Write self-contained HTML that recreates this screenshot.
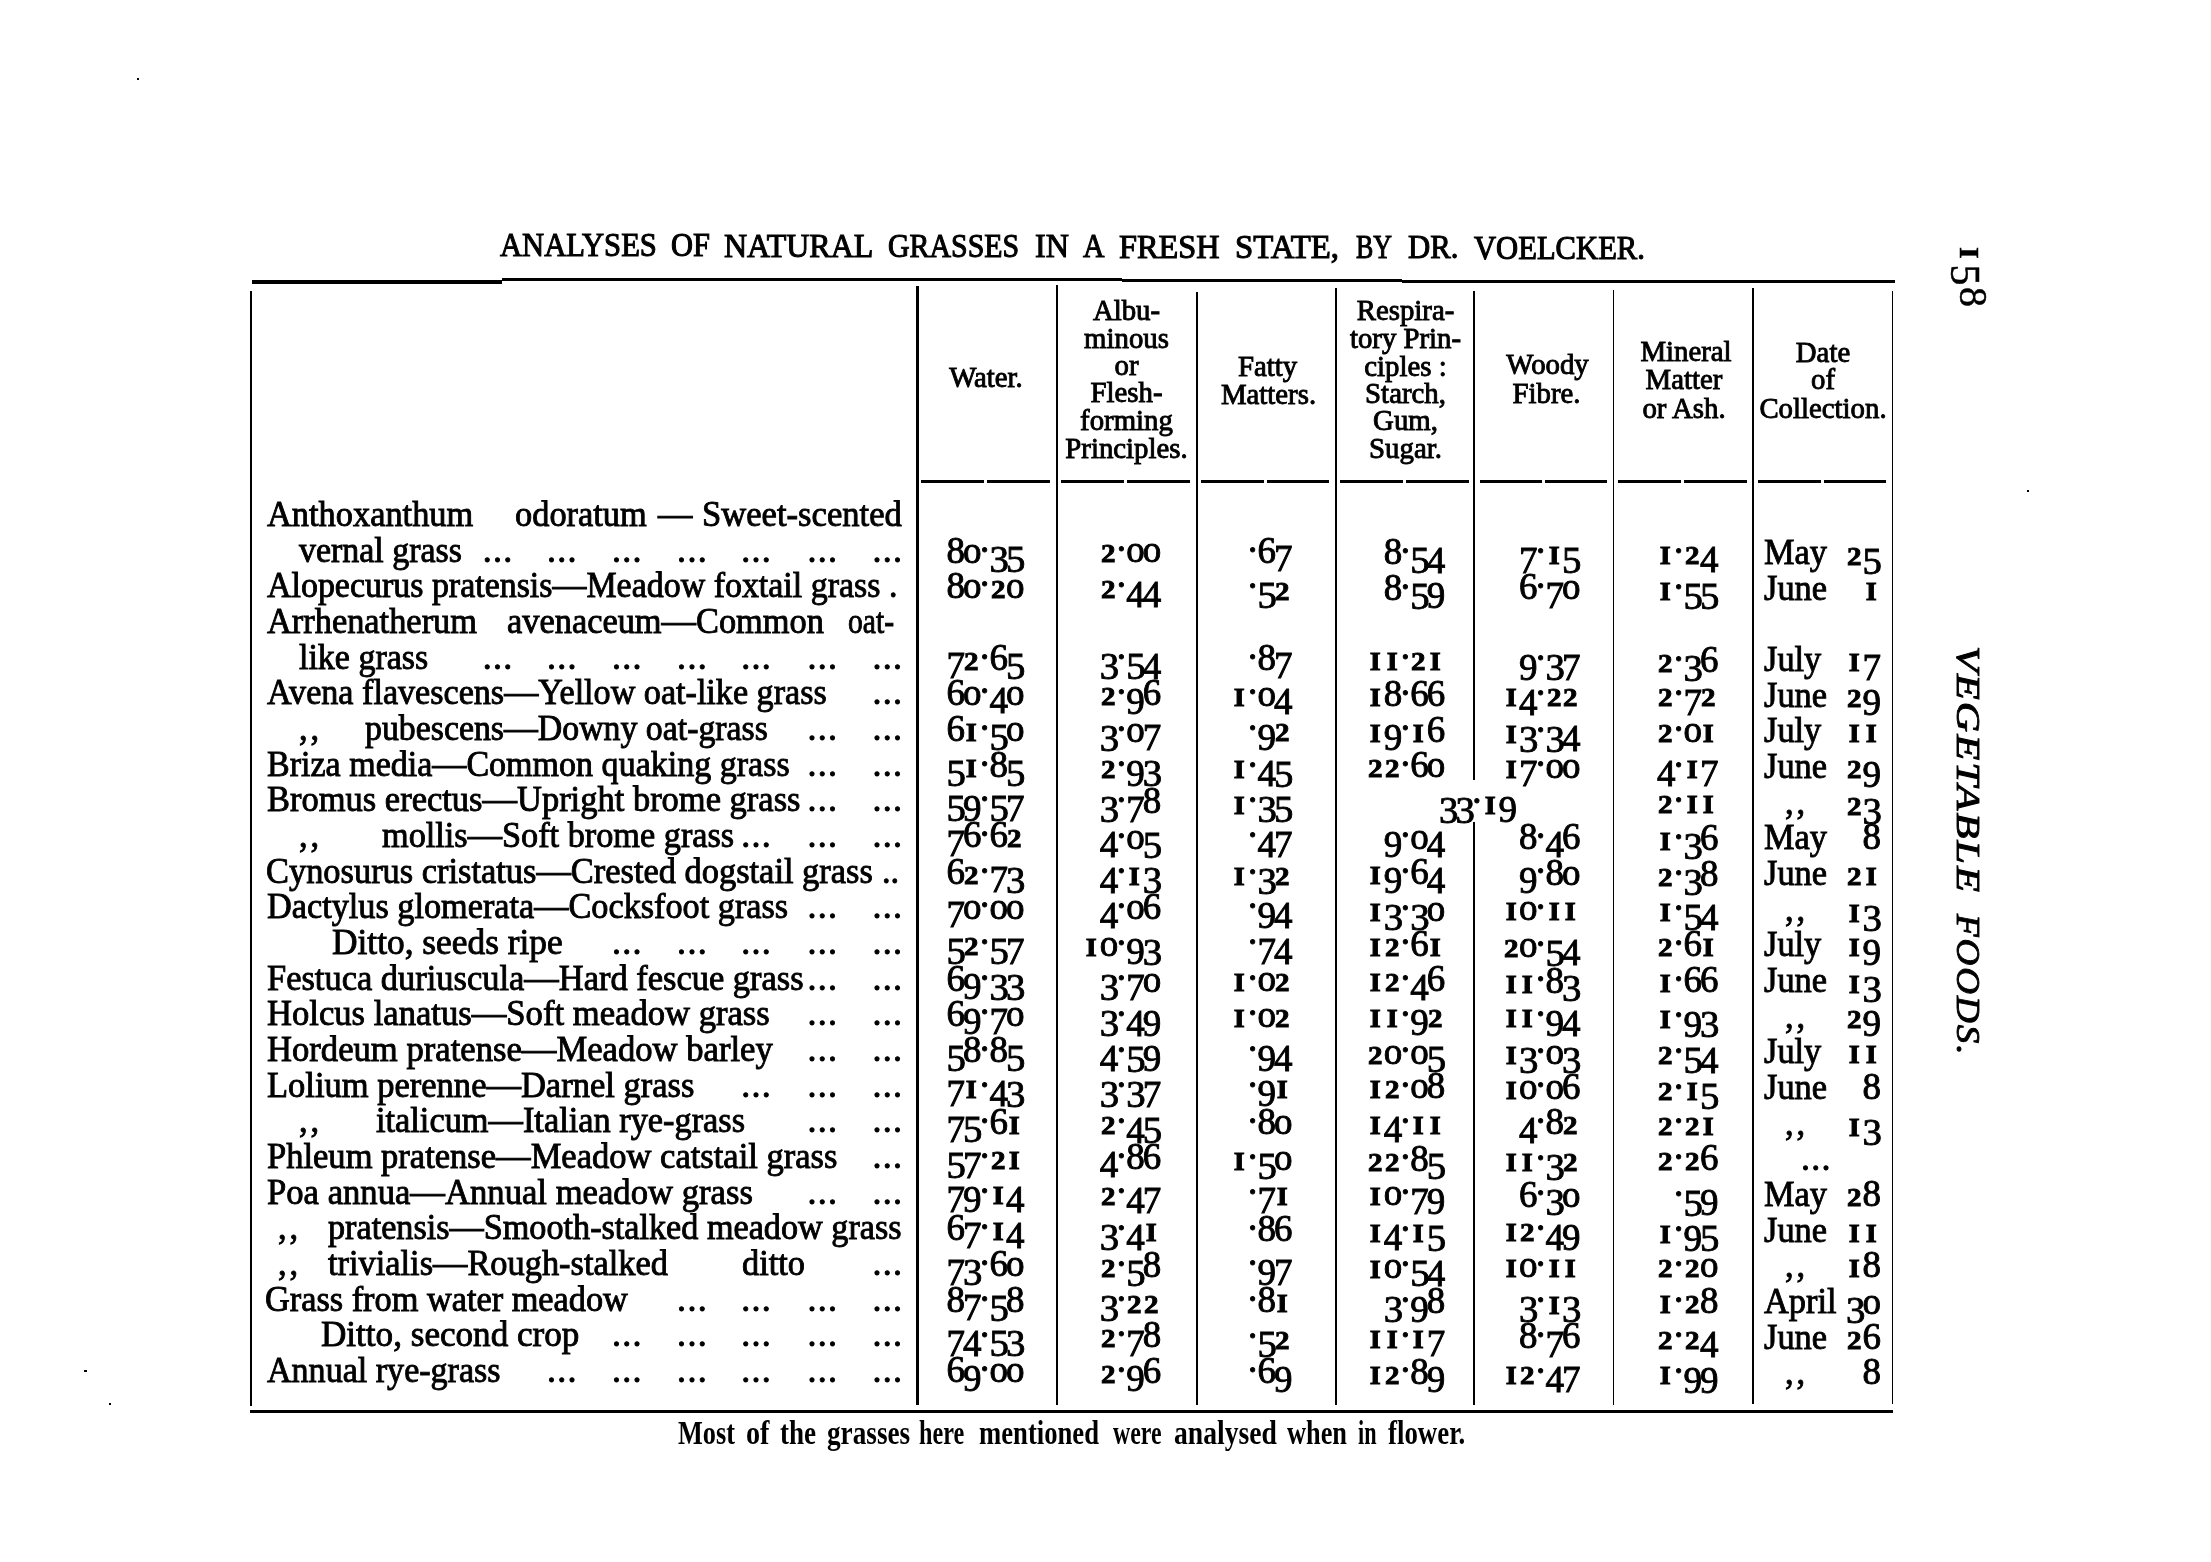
<!DOCTYPE html><html><head><meta charset="utf-8"><style>
*{margin:0;padding:0;box-sizing:border-box}
html,body{width:2211px;height:1562px;background:#fff;overflow:hidden}
body{filter:grayscale(1)}
body{position:relative;font-family:"Liberation Serif",serif;color:#000;font-size:36.0px;-webkit-text-stroke:0.9px #000}
.t{position:absolute;white-space:pre;line-height:1;transform-origin:0 0}
.r{position:absolute;background:#000}
.dm{letter-spacing:3px}
.ld{letter-spacing:1.3px}
.ti{letter-spacing:0;-webkit-text-stroke:1.1px #000}
.ft{font-weight:bold;-webkit-text-stroke:0}
.h{font-size:28.8px}
.d{display:inline-block;width:0.446em;text-align:center;font-style:normal}
.d1{font-size:0.68em;font-weight:bold;width:0.656em;transform:scaleX(1.12)}
.d2{font-size:0.7em;font-weight:bold;width:0.637em;transform:scaleX(1.12)}
.dn{position:relative;top:0.23em}
.d35{font-size:1.05em;width:0.425em;top:0.225em}
.p{display:inline-block;width:0.27em;text-align:center;font-style:normal;position:relative;top:-0.30em}
.rot .d{width:22px}
.rot .d1,.rot .d2{width:22px}
.rot .d35{width:22px}
.rot{position:absolute;font-size:40px;-webkit-text-stroke:0.5px #000;line-height:1;transform-origin:0 0;transform:rotate(90deg);white-space:pre}
.rot2{position:absolute;font-size:33.5px;font-style:italic;line-height:1;transform-origin:0 0;transform:rotate(90deg) scaleX(1.2);white-space:pre}
</style></head><body>
<div class="r" style="left:137.0px;top:78.0px;width:2.0px;height:2.0px;"></div>
<div class="r" style="left:2027.0px;top:490.0px;width:2.2px;height:2.2px;"></div>
<div class="r" style="left:84.0px;top:1370.0px;width:3.0px;height:1.5px;"></div>
<div class="r" style="left:109.0px;top:1403.0px;width:1.5px;height:1.5px;"></div>
<div class="r" style="left:252.0px;top:280.3px;width:250.0px;height:3.3px;"></div>
<div class="r" style="left:502.0px;top:278.1px;width:620.0px;height:2.9px;"></div>
<div class="r" style="left:1122.0px;top:279.2px;width:280.0px;height:2.9px;"></div>
<div class="r" style="left:1402.0px;top:280.4px;width:493.0px;height:2.9px;"></div>
<div class="r" style="left:250.0px;top:1409.5px;width:1643.0px;height:3.0px;"></div>
<div class="r" style="left:250.0px;top:291.0px;width:2.2px;height:1115.0px;"></div>
<div class="r" style="left:916.0px;top:286.0px;width:3.0px;height:1119.0px;"></div>
<div class="r" style="left:1055.5px;top:285.0px;width:2.0px;height:1120.0px;"></div>
<div class="r" style="left:1195.5px;top:292.0px;width:2.2px;height:1113.0px;"></div>
<div class="r" style="left:1335.3px;top:288.0px;width:2.0px;height:1117.0px;"></div>
<div class="r" style="left:1473.2px;top:291.0px;width:2.0px;height:489.0px;"></div>
<div class="r" style="left:1473.2px;top:822.0px;width:2.0px;height:583.0px;"></div>
<div class="r" style="left:1612.8px;top:290.0px;width:1.6px;height:1115.0px;"></div>
<div class="r" style="left:1752.0px;top:288.0px;width:2.0px;height:1116.0px;"></div>
<div class="r" style="left:1891.8px;top:291.0px;width:1.6px;height:1113.0px;"></div>
<div class="r" style="left:921.0px;top:480.3px;width:63.0px;height:3.0px;"></div>
<div class="r" style="left:987.0px;top:480.3px;width:63.0px;height:3.0px;"></div>
<div class="r" style="left:1061.0px;top:480.3px;width:63.0px;height:3.0px;"></div>
<div class="r" style="left:1127.0px;top:480.3px;width:63.0px;height:3.0px;"></div>
<div class="r" style="left:1201.0px;top:480.3px;width:62.5px;height:3.0px;"></div>
<div class="r" style="left:1266.5px;top:480.3px;width:62.5px;height:3.0px;"></div>
<div class="r" style="left:1340.0px;top:480.3px;width:63.0px;height:3.0px;"></div>
<div class="r" style="left:1406.0px;top:480.3px;width:63.0px;height:3.0px;"></div>
<div class="r" style="left:1480.0px;top:480.3px;width:62.0px;height:3.0px;"></div>
<div class="r" style="left:1545.0px;top:480.3px;width:62.0px;height:3.0px;"></div>
<div class="r" style="left:1618.0px;top:480.3px;width:63.0px;height:3.0px;"></div>
<div class="r" style="left:1684.0px;top:480.3px;width:63.0px;height:3.0px;"></div>
<div class="r" style="left:1758.0px;top:480.3px;width:62.5px;height:3.0px;"></div>
<div class="r" style="left:1823.5px;top:480.3px;width:62.5px;height:3.0px;"></div>
<div class="t ti" style="left:499.50px;top:227.94px;font-size:34.00px;transform:scaleX(0.9008);">ANALYSES</div>
<div class="t ti" style="left:670.90px;top:228.26px;font-size:34.00px;transform:scaleX(0.8949);">OF</div>
<div class="t ti" style="left:724.20px;top:228.56px;font-size:34.00px;transform:scaleX(0.9409);">NATURAL</div>
<div class="t ti" style="left:888.30px;top:228.99px;font-size:34.00px;transform:scaleX(0.8782);">GRASSES</div>
<div class="t ti" style="left:1035.30px;top:229.27px;font-size:34.00px;transform:scaleX(0.9445);">IN</div>
<div class="t ti" style="left:1082.70px;top:229.38px;font-size:34.00px;transform:scaleX(0.8753);">A</div>
<div class="t ti" style="left:1119.00px;top:229.60px;font-size:34.00px;transform:scaleX(0.9506);">FRESH</div>
<div class="t ti" style="left:1235.40px;top:229.93px;font-size:34.00px;transform:scaleX(0.9649);">STATE,</div>
<div class="t ti" style="left:1356.00px;top:230.17px;font-size:34.00px;transform:scaleX(0.7622);">BY</div>
<div class="t ti" style="left:1407.60px;top:230.33px;font-size:34.00px;transform:scaleX(0.9043);">DR.</div>
<div class="t ti" style="left:1473.60px;top:230.68px;font-size:34.00px;transform:scaleX(0.9003);">VOELCKER.</div>
<div class="t h" style="left:986.00px;top:363.38px;font-size:28.80px;transform:translateX(-50%) scaleX(1.0000);transform-origin:0 0;">Water.</div>
<div class="t h" style="left:1126.50px;top:295.58px;font-size:28.80px;transform:translateX(-50%) scaleX(1.0000);transform-origin:0 0;">Albu-</div>
<div class="t h" style="left:1126.50px;top:324.08px;font-size:28.80px;transform:translateX(-50%) scaleX(1.0000);transform-origin:0 0;">minous</div>
<div class="t h" style="left:1126.50px;top:350.68px;font-size:28.80px;transform:translateX(-50%) scaleX(1.0000);transform-origin:0 0;">or</div>
<div class="t h" style="left:1126.50px;top:377.88px;font-size:28.80px;transform:translateX(-50%) scaleX(1.0000);transform-origin:0 0;">Flesh-</div>
<div class="t h" style="left:1126.50px;top:405.88px;font-size:28.80px;transform:translateX(-50%) scaleX(1.0000);transform-origin:0 0;">forming</div>
<div class="t h" style="left:1126.50px;top:433.58px;font-size:28.80px;transform:translateX(-50%) scaleX(1.0000);transform-origin:0 0;">Principles.</div>
<div class="t h" style="left:1267.50px;top:351.98px;font-size:28.80px;transform:translateX(-50%) scaleX(1.0000);transform-origin:0 0;">Fatty</div>
<div class="t h" style="left:1268.50px;top:379.88px;font-size:28.80px;transform:translateX(-50%) scaleX(1.0000);transform-origin:0 0;">Matters.</div>
<div class="t h" style="left:1405.50px;top:296.28px;font-size:28.80px;transform:translateX(-50%) scaleX(1.0000);transform-origin:0 0;">Respira-</div>
<div class="t h" style="left:1405.50px;top:324.08px;font-size:28.80px;transform:translateX(-50%) scaleX(1.0000);transform-origin:0 0;">tory Prin-</div>
<div class="t h" style="left:1405.50px;top:351.88px;font-size:28.80px;transform:translateX(-50%) scaleX(1.0000);transform-origin:0 0;">ciples :</div>
<div class="t h" style="left:1405.50px;top:378.58px;font-size:28.80px;transform:translateX(-50%) scaleX(1.0000);transform-origin:0 0;">Starch,</div>
<div class="t h" style="left:1405.50px;top:406.38px;font-size:28.80px;transform:translateX(-50%) scaleX(1.0000);transform-origin:0 0;">Gum,</div>
<div class="t h" style="left:1405.50px;top:434.28px;font-size:28.80px;transform:translateX(-50%) scaleX(1.0000);transform-origin:0 0;">Sugar.</div>
<div class="t h" style="left:1547.50px;top:349.98px;font-size:28.80px;transform:translateX(-50%) scaleX(1.0000);transform-origin:0 0;">Woody</div>
<div class="t h" style="left:1546.50px;top:379.48px;font-size:28.80px;transform:translateX(-50%) scaleX(1.0000);transform-origin:0 0;">Fibre.</div>
<div class="t h" style="left:1686.00px;top:336.68px;font-size:28.80px;transform:translateX(-50%) scaleX(1.0000);transform-origin:0 0;">Mineral</div>
<div class="t h" style="left:1684.00px;top:364.68px;font-size:28.80px;transform:translateX(-50%) scaleX(1.0000);transform-origin:0 0;">Matter</div>
<div class="t h" style="left:1684.00px;top:393.68px;font-size:28.80px;transform:translateX(-50%) scaleX(1.0000);transform-origin:0 0;">or Ash.</div>
<div class="t h" style="left:1823.00px;top:337.68px;font-size:28.80px;transform:translateX(-50%) scaleX(1.0000);transform-origin:0 0;">Date</div>
<div class="t h" style="left:1823.00px;top:365.18px;font-size:28.80px;transform:translateX(-50%) scaleX(1.0000);transform-origin:0 0;">of</div>
<div class="t h" style="left:1823.00px;top:393.68px;font-size:28.80px;transform:translateX(-50%) scaleX(1.0000);transform-origin:0 0;">Collection.</div>
<div class="t b" style="left:266.90px;top:496.05px;transform:scaleX(0.9550);">Anthoxanthum</div>
<div class="t b" style="left:514.50px;top:496.05px;transform:scaleX(0.9550);">odoratum</div>
<div class="t b" style="left:657.50px;top:496.05px;transform:scaleX(0.9550);">—</div>
<div class="t b" style="left:702.10px;top:496.05px;transform:scaleX(0.9614);">Sweet-scented</div>
<div class="t b" style="left:299.20px;top:531.72px;transform:scaleX(0.9425);">vernal grass</div>
<div class="t ld" style="left:482.70px;top:531.72px;">...</div>
<div class="t ld" style="left:546.90px;top:531.72px;">...</div>
<div class="t ld" style="left:612.00px;top:531.72px;">...</div>
<div class="t ld" style="left:677.10px;top:531.72px;">...</div>
<div class="t ld" style="left:741.20px;top:531.72px;">...</div>
<div class="t ld" style="left:807.40px;top:531.72px;">...</div>
<div class="t ld" style="left:872.50px;top:531.72px;">...</div>
<div class="t b" style="left:267.00px;top:567.39px;transform:scaleX(0.9425);">Alopecurus pratensis—Meadow foxtail grass .</div>
<div class="t b" style="left:267.00px;top:603.06px;transform:scaleX(0.9550);">Arrhenatherum</div>
<div class="t b" style="left:506.80px;top:603.06px;transform:scaleX(0.9550);">avenaceum—Common</div>
<div class="t b" style="left:848.20px;top:603.06px;transform:scaleX(0.8237);">oat-</div>
<div class="t b" style="left:299.20px;top:638.73px;transform:scaleX(0.9433);">like grass</div>
<div class="t ld" style="left:482.70px;top:638.73px;">...</div>
<div class="t ld" style="left:546.90px;top:638.73px;">...</div>
<div class="t ld" style="left:612.00px;top:638.73px;">...</div>
<div class="t ld" style="left:677.10px;top:638.73px;">...</div>
<div class="t ld" style="left:741.20px;top:638.73px;">...</div>
<div class="t ld" style="left:807.40px;top:638.73px;">...</div>
<div class="t ld" style="left:872.50px;top:638.73px;">...</div>
<div class="t b" style="left:267.00px;top:674.40px;transform:scaleX(0.9478);">Avena flavescens—Yellow oat-like grass</div>
<div class="t ld" style="left:872.50px;top:674.40px;">...</div>
<div class="t b dm" style="left:299.20px;top:710.07px;transform:scaleX(0.9550);">,,</div>
<div class="t b" style="left:365.30px;top:710.07px;transform:scaleX(0.9394);">pubescens—Downy oat-grass</div>
<div class="t ld" style="left:807.40px;top:710.07px;">...</div>
<div class="t ld" style="left:872.50px;top:710.07px;">...</div>
<div class="t b" style="left:267.00px;top:745.74px;transform:scaleX(0.9454);">Briza media—Common quaking grass</div>
<div class="t ld" style="left:807.40px;top:745.74px;">...</div>
<div class="t ld" style="left:872.50px;top:745.74px;">...</div>
<div class="t b" style="left:267.00px;top:781.41px;transform:scaleX(0.9580);">Bromus erectus—Upright brome grass</div>
<div class="t ld" style="left:807.40px;top:781.41px;">...</div>
<div class="t ld" style="left:872.50px;top:781.41px;">...</div>
<div class="t b dm" style="left:299.20px;top:817.08px;transform:scaleX(0.9550);">,,</div>
<div class="t b" style="left:382.20px;top:817.08px;transform:scaleX(0.9519);">mollis—Soft brome grass</div>
<div class="t ld" style="left:741.20px;top:817.08px;">...</div>
<div class="t ld" style="left:807.40px;top:817.08px;">...</div>
<div class="t ld" style="left:872.50px;top:817.08px;">...</div>
<div class="t b" style="left:266.00px;top:852.75px;transform:scaleX(0.9557);">Cynosurus cristatus—Crested dogstail grass</div>
<div class="t b" style="left:882.10px;top:852.75px;transform:scaleX(0.9550);">..</div>
<div class="t b" style="left:267.00px;top:888.42px;transform:scaleX(0.9513);">Dactylus glomerata—Cocksfoot grass</div>
<div class="t ld" style="left:807.40px;top:888.42px;">...</div>
<div class="t ld" style="left:872.50px;top:888.42px;">...</div>
<div class="t b" style="left:331.50px;top:924.09px;transform:scaleX(0.9819);">Ditto, seeds ripe</div>
<div class="t ld" style="left:612.00px;top:924.09px;">...</div>
<div class="t ld" style="left:677.10px;top:924.09px;">...</div>
<div class="t ld" style="left:741.20px;top:924.09px;">...</div>
<div class="t ld" style="left:807.40px;top:924.09px;">...</div>
<div class="t ld" style="left:872.50px;top:924.09px;">...</div>
<div class="t b" style="left:267.00px;top:959.76px;transform:scaleX(0.9568);">Festuca duriuscula—Hard fescue grass</div>
<div class="t ld" style="left:807.40px;top:959.76px;">...</div>
<div class="t ld" style="left:872.50px;top:959.76px;">...</div>
<div class="t b" style="left:267.00px;top:995.43px;transform:scaleX(0.9615);">Holcus lanatus—Soft meadow grass</div>
<div class="t ld" style="left:807.40px;top:995.43px;">...</div>
<div class="t ld" style="left:872.50px;top:995.43px;">...</div>
<div class="t b" style="left:267.00px;top:1031.10px;transform:scaleX(0.9619);">Hordeum pratense—Meadow barley</div>
<div class="t ld" style="left:807.40px;top:1031.10px;">...</div>
<div class="t ld" style="left:872.50px;top:1031.10px;">...</div>
<div class="t b" style="left:267.00px;top:1066.77px;transform:scaleX(0.9586);">Lolium perenne—Darnel grass</div>
<div class="t ld" style="left:741.20px;top:1066.77px;">...</div>
<div class="t ld" style="left:807.40px;top:1066.77px;">...</div>
<div class="t ld" style="left:872.50px;top:1066.77px;">...</div>
<div class="t b dm" style="left:299.20px;top:1102.44px;transform:scaleX(0.9550);">,,</div>
<div class="t b" style="left:376.10px;top:1102.44px;transform:scaleX(0.9541);">italicum—Italian rye-grass</div>
<div class="t ld" style="left:807.40px;top:1102.44px;">...</div>
<div class="t ld" style="left:872.50px;top:1102.44px;">...</div>
<div class="t b" style="left:267.00px;top:1138.11px;transform:scaleX(0.9589);">Phleum pratense—Meadow catstail grass</div>
<div class="t ld" style="left:872.50px;top:1138.11px;">...</div>
<div class="t b" style="left:267.00px;top:1173.78px;transform:scaleX(0.9624);">Poa annua—Annual meadow grass</div>
<div class="t ld" style="left:807.40px;top:1173.78px;">...</div>
<div class="t ld" style="left:872.50px;top:1173.78px;">...</div>
<div class="t b dm" style="left:278.20px;top:1209.45px;transform:scaleX(0.9550);">,,</div>
<div class="t b" style="left:328.40px;top:1209.45px;transform:scaleX(0.9498);">pratensis—Smooth-stalked meadow grass</div>
<div class="t b dm" style="left:278.20px;top:1245.12px;transform:scaleX(0.9550);">,,</div>
<div class="t b" style="left:328.40px;top:1245.12px;transform:scaleX(0.9549);">trivialis—Rough-stalked</div>
<div class="t b" style="left:742.00px;top:1245.12px;transform:scaleX(0.9543);">ditto</div>
<div class="t ld" style="left:872.50px;top:1245.12px;">...</div>
<div class="t b" style="left:265.40px;top:1280.79px;transform:scaleX(0.9528);">Grass from water meadow</div>
<div class="t ld" style="left:677.10px;top:1280.79px;">...</div>
<div class="t ld" style="left:741.20px;top:1280.79px;">...</div>
<div class="t ld" style="left:807.40px;top:1280.79px;">...</div>
<div class="t ld" style="left:872.50px;top:1280.79px;">...</div>
<div class="t b" style="left:320.70px;top:1316.46px;transform:scaleX(0.9753);">Ditto, second crop</div>
<div class="t ld" style="left:612.00px;top:1316.46px;">...</div>
<div class="t ld" style="left:677.10px;top:1316.46px;">...</div>
<div class="t ld" style="left:741.20px;top:1316.46px;">...</div>
<div class="t ld" style="left:807.40px;top:1316.46px;">...</div>
<div class="t ld" style="left:872.50px;top:1316.46px;">...</div>
<div class="t b" style="left:267.00px;top:1352.13px;transform:scaleX(0.9460);">Annual rye-grass</div>
<div class="t ld" style="left:546.90px;top:1352.13px;">...</div>
<div class="t ld" style="left:612.00px;top:1352.13px;">...</div>
<div class="t ld" style="left:677.10px;top:1352.13px;">...</div>
<div class="t ld" style="left:741.20px;top:1352.13px;">...</div>
<div class="t ld" style="left:807.40px;top:1352.13px;">...</div>
<div class="t ld" style="left:872.50px;top:1352.13px;">...</div>
<div class="t n" style="right:1188.50px;top:530.88px;font-size:37.00px;"><i class="d">8</i><i class="d">o</i><i class="p">.</i><i class="d dn d35">3</i><i class="d dn d35">5</i></div>
<div class="t n" style="right:1051.70px;top:531.48px;font-size:37.00px;"><i class="d d2">2</i><i class="p">.</i><i class="d">o</i><i class="d">o</i></div>
<div class="t n" style="right:920.50px;top:531.88px;font-size:37.00px;"><i class="p">.</i><i class="d">6</i><i class="d dn">7</i></div>
<div class="t n" style="right:767.70px;top:532.18px;font-size:37.00px;"><i class="d">8</i><i class="p">.</i><i class="d dn d35">5</i><i class="d dn">4</i></div>
<div class="t n" style="right:632.50px;top:532.48px;font-size:37.00px;"><i class="d dn">7</i><i class="p">.</i><i class="d d1">I</i><i class="d dn d35">5</i></div>
<div class="t n" style="right:494.50px;top:532.78px;font-size:37.00px;"><i class="d d1">I</i><i class="p">.</i><i class="d d2">2</i><i class="d dn">4</i></div>
<div class="t b" style="left:1764.00px;top:533.92px;transform:scaleX(0.9550);">May</div>
<div class="t n" style="right:332.00px;top:533.08px;font-size:37.00px;"><i class="d d2">2</i><i class="d dn d35">5</i></div>
<div class="t n" style="right:1188.50px;top:566.55px;font-size:37.00px;"><i class="d">8</i><i class="d">o</i><i class="p">.</i><i class="d d2">2</i><i class="d">o</i></div>
<div class="t n" style="right:1051.70px;top:567.15px;font-size:37.00px;"><i class="d d2">2</i><i class="p">.</i><i class="d dn">4</i><i class="d dn">4</i></div>
<div class="t n" style="right:920.50px;top:567.55px;font-size:37.00px;"><i class="p">.</i><i class="d dn d35">5</i><i class="d d2">2</i></div>
<div class="t n" style="right:767.70px;top:567.85px;font-size:37.00px;"><i class="d">8</i><i class="p">.</i><i class="d dn d35">5</i><i class="d dn">9</i></div>
<div class="t n" style="right:632.50px;top:568.15px;font-size:37.00px;"><i class="d">6</i><i class="p">.</i><i class="d dn">7</i><i class="d">o</i></div>
<div class="t n" style="right:494.50px;top:568.45px;font-size:37.00px;"><i class="d d1">I</i><i class="p">.</i><i class="d dn d35">5</i><i class="d dn d35">5</i></div>
<div class="t b" style="left:1764.00px;top:569.59px;transform:scaleX(0.9550);">June</div>
<div class="t n" style="right:332.00px;top:568.75px;font-size:37.00px;"><i class="d d1">I</i></div>
<div class="t n" style="right:1188.50px;top:637.89px;font-size:37.00px;"><i class="d dn">7</i><i class="d d2">2</i><i class="p">.</i><i class="d">6</i><i class="d dn d35">5</i></div>
<div class="t n" style="right:1051.70px;top:638.49px;font-size:37.00px;"><i class="d dn d35">3</i><i class="p">.</i><i class="d dn d35">5</i><i class="d dn">4</i></div>
<div class="t n" style="right:920.50px;top:638.89px;font-size:37.00px;"><i class="p">.</i><i class="d">8</i><i class="d dn">7</i></div>
<div class="t n" style="right:767.70px;top:639.19px;font-size:37.00px;"><i class="d d1">I</i><i class="d d1">I</i><i class="p">.</i><i class="d d2">2</i><i class="d d1">I</i></div>
<div class="t n" style="right:632.50px;top:639.49px;font-size:37.00px;"><i class="d dn">9</i><i class="p">.</i><i class="d dn d35">3</i><i class="d dn">7</i></div>
<div class="t n" style="right:494.50px;top:639.79px;font-size:37.00px;"><i class="d d2">2</i><i class="p">.</i><i class="d dn d35">3</i><i class="d">6</i></div>
<div class="t b" style="left:1764.00px;top:640.93px;transform:scaleX(0.9550);">July</div>
<div class="t n" style="right:332.00px;top:640.09px;font-size:37.00px;"><i class="d d1">I</i><i class="d dn">7</i></div>
<div class="t n" style="right:1188.50px;top:673.56px;font-size:37.00px;"><i class="d">6</i><i class="d">o</i><i class="p">.</i><i class="d dn">4</i><i class="d">o</i></div>
<div class="t n" style="right:1051.70px;top:674.16px;font-size:37.00px;"><i class="d d2">2</i><i class="p">.</i><i class="d dn">9</i><i class="d">6</i></div>
<div class="t n" style="right:920.50px;top:674.56px;font-size:37.00px;"><i class="d d1">I</i><i class="p">.</i><i class="d">o</i><i class="d dn">4</i></div>
<div class="t n" style="right:767.70px;top:674.86px;font-size:37.00px;"><i class="d d1">I</i><i class="d">8</i><i class="p">.</i><i class="d">6</i><i class="d">6</i></div>
<div class="t n" style="right:632.50px;top:675.16px;font-size:37.00px;"><i class="d d1">I</i><i class="d dn">4</i><i class="p">.</i><i class="d d2">2</i><i class="d d2">2</i></div>
<div class="t n" style="right:494.50px;top:675.46px;font-size:37.00px;"><i class="d d2">2</i><i class="p">.</i><i class="d dn">7</i><i class="d d2">2</i></div>
<div class="t b" style="left:1764.00px;top:676.60px;transform:scaleX(0.9550);">June</div>
<div class="t n" style="right:332.00px;top:675.76px;font-size:37.00px;"><i class="d d2">2</i><i class="d dn">9</i></div>
<div class="t n" style="right:1188.50px;top:709.23px;font-size:37.00px;"><i class="d">6</i><i class="d d1">I</i><i class="p">.</i><i class="d dn d35">5</i><i class="d">o</i></div>
<div class="t n" style="right:1051.70px;top:709.83px;font-size:37.00px;"><i class="d dn d35">3</i><i class="p">.</i><i class="d">o</i><i class="d dn">7</i></div>
<div class="t n" style="right:920.50px;top:710.23px;font-size:37.00px;"><i class="p">.</i><i class="d dn">9</i><i class="d d2">2</i></div>
<div class="t n" style="right:767.70px;top:710.53px;font-size:37.00px;"><i class="d d1">I</i><i class="d dn">9</i><i class="p">.</i><i class="d d1">I</i><i class="d">6</i></div>
<div class="t n" style="right:632.50px;top:710.83px;font-size:37.00px;"><i class="d d1">I</i><i class="d dn d35">3</i><i class="p">.</i><i class="d dn d35">3</i><i class="d dn">4</i></div>
<div class="t n" style="right:494.50px;top:711.13px;font-size:37.00px;"><i class="d d2">2</i><i class="p">.</i><i class="d">o</i><i class="d d1">I</i></div>
<div class="t b" style="left:1764.00px;top:712.27px;transform:scaleX(0.9550);">July</div>
<div class="t n" style="right:332.00px;top:711.43px;font-size:37.00px;"><i class="d d1">I</i><i class="d d1">I</i></div>
<div class="t n" style="right:1188.50px;top:744.90px;font-size:37.00px;"><i class="d dn d35">5</i><i class="d d1">I</i><i class="p">.</i><i class="d">8</i><i class="d dn d35">5</i></div>
<div class="t n" style="right:1051.70px;top:745.50px;font-size:37.00px;"><i class="d d2">2</i><i class="p">.</i><i class="d dn">9</i><i class="d dn d35">3</i></div>
<div class="t n" style="right:920.50px;top:745.90px;font-size:37.00px;"><i class="d d1">I</i><i class="p">.</i><i class="d dn">4</i><i class="d dn d35">5</i></div>
<div class="t n" style="right:767.70px;top:746.20px;font-size:37.00px;"><i class="d d2">2</i><i class="d d2">2</i><i class="p">.</i><i class="d">6</i><i class="d">o</i></div>
<div class="t n" style="right:632.50px;top:746.50px;font-size:37.00px;"><i class="d d1">I</i><i class="d dn">7</i><i class="p">.</i><i class="d">o</i><i class="d">o</i></div>
<div class="t n" style="right:494.50px;top:746.80px;font-size:37.00px;"><i class="d dn">4</i><i class="p">.</i><i class="d d1">I</i><i class="d dn">7</i></div>
<div class="t b" style="left:1764.00px;top:747.94px;transform:scaleX(0.9550);">June</div>
<div class="t n" style="right:332.00px;top:747.10px;font-size:37.00px;"><i class="d d2">2</i><i class="d dn">9</i></div>
<div class="t n" style="right:1188.50px;top:780.57px;font-size:37.00px;"><i class="d dn d35">5</i><i class="d dn">9</i><i class="p">.</i><i class="d dn d35">5</i><i class="d dn">7</i></div>
<div class="t n" style="right:1051.70px;top:781.17px;font-size:37.00px;"><i class="d dn d35">3</i><i class="p">.</i><i class="d dn">7</i><i class="d">8</i></div>
<div class="t n" style="right:920.50px;top:781.57px;font-size:37.00px;"><i class="d d1">I</i><i class="p">.</i><i class="d dn d35">3</i><i class="d dn d35">5</i></div>
<div class="t n" style="right:494.50px;top:782.47px;font-size:37.00px;"><i class="d d2">2</i><i class="p">.</i><i class="d d1">I</i><i class="d d1">I</i></div>
<div class="t b dm" style="left:1785.00px;top:783.61px;transform:scaleX(0.9550);">,,</div>
<div class="t n" style="right:332.00px;top:782.77px;font-size:37.00px;"><i class="d d2">2</i><i class="d dn d35">3</i></div>
<div class="t n" style="right:1188.50px;top:816.24px;font-size:37.00px;"><i class="d dn">7</i><i class="d">6</i><i class="p">.</i><i class="d">6</i><i class="d d2">2</i></div>
<div class="t n" style="right:1051.70px;top:816.84px;font-size:37.00px;"><i class="d dn">4</i><i class="p">.</i><i class="d">o</i><i class="d dn d35">5</i></div>
<div class="t n" style="right:920.50px;top:817.24px;font-size:37.00px;"><i class="p">.</i><i class="d dn">4</i><i class="d dn">7</i></div>
<div class="t n" style="right:767.70px;top:817.54px;font-size:37.00px;"><i class="d dn">9</i><i class="p">.</i><i class="d">o</i><i class="d dn">4</i></div>
<div class="t n" style="right:632.50px;top:817.84px;font-size:37.00px;"><i class="d">8</i><i class="p">.</i><i class="d dn">4</i><i class="d">6</i></div>
<div class="t n" style="right:494.50px;top:818.14px;font-size:37.00px;"><i class="d d1">I</i><i class="p">.</i><i class="d dn d35">3</i><i class="d">6</i></div>
<div class="t b" style="left:1764.00px;top:819.28px;transform:scaleX(0.9550);">May</div>
<div class="t n" style="right:332.00px;top:818.44px;font-size:37.00px;"><i class="d">8</i></div>
<div class="t n" style="right:1188.50px;top:851.91px;font-size:37.00px;"><i class="d">6</i><i class="d d2">2</i><i class="p">.</i><i class="d dn">7</i><i class="d dn d35">3</i></div>
<div class="t n" style="right:1051.70px;top:852.51px;font-size:37.00px;"><i class="d dn">4</i><i class="p">.</i><i class="d d1">I</i><i class="d dn d35">3</i></div>
<div class="t n" style="right:920.50px;top:852.91px;font-size:37.00px;"><i class="d d1">I</i><i class="p">.</i><i class="d dn d35">3</i><i class="d d2">2</i></div>
<div class="t n" style="right:767.70px;top:853.21px;font-size:37.00px;"><i class="d d1">I</i><i class="d dn">9</i><i class="p">.</i><i class="d">6</i><i class="d dn">4</i></div>
<div class="t n" style="right:632.50px;top:853.51px;font-size:37.00px;"><i class="d dn">9</i><i class="p">.</i><i class="d">8</i><i class="d">o</i></div>
<div class="t n" style="right:494.50px;top:853.81px;font-size:37.00px;"><i class="d d2">2</i><i class="p">.</i><i class="d dn d35">3</i><i class="d">8</i></div>
<div class="t b" style="left:1764.00px;top:854.95px;transform:scaleX(0.9550);">June</div>
<div class="t n" style="right:332.00px;top:854.11px;font-size:37.00px;"><i class="d d2">2</i><i class="d d1">I</i></div>
<div class="t n" style="right:1188.50px;top:887.58px;font-size:37.00px;"><i class="d dn">7</i><i class="d">o</i><i class="p">.</i><i class="d">o</i><i class="d">o</i></div>
<div class="t n" style="right:1051.70px;top:888.18px;font-size:37.00px;"><i class="d dn">4</i><i class="p">.</i><i class="d">o</i><i class="d">6</i></div>
<div class="t n" style="right:920.50px;top:888.58px;font-size:37.00px;"><i class="p">.</i><i class="d dn">9</i><i class="d dn">4</i></div>
<div class="t n" style="right:767.70px;top:888.88px;font-size:37.00px;"><i class="d d1">I</i><i class="d dn d35">3</i><i class="p">.</i><i class="d dn d35">3</i><i class="d">o</i></div>
<div class="t n" style="right:632.50px;top:889.18px;font-size:37.00px;"><i class="d d1">I</i><i class="d">o</i><i class="p">.</i><i class="d d1">I</i><i class="d d1">I</i></div>
<div class="t n" style="right:494.50px;top:889.48px;font-size:37.00px;"><i class="d d1">I</i><i class="p">.</i><i class="d dn d35">5</i><i class="d dn">4</i></div>
<div class="t b dm" style="left:1785.00px;top:890.62px;transform:scaleX(0.9550);">,,</div>
<div class="t n" style="right:332.00px;top:889.78px;font-size:37.00px;"><i class="d d1">I</i><i class="d dn d35">3</i></div>
<div class="t n" style="right:1188.50px;top:923.25px;font-size:37.00px;"><i class="d dn d35">5</i><i class="d d2">2</i><i class="p">.</i><i class="d dn d35">5</i><i class="d dn">7</i></div>
<div class="t n" style="right:1051.70px;top:923.85px;font-size:37.00px;"><i class="d d1">I</i><i class="d">o</i><i class="p">.</i><i class="d dn">9</i><i class="d dn d35">3</i></div>
<div class="t n" style="right:920.50px;top:924.25px;font-size:37.00px;"><i class="p">.</i><i class="d dn">7</i><i class="d dn">4</i></div>
<div class="t n" style="right:767.70px;top:924.55px;font-size:37.00px;"><i class="d d1">I</i><i class="d d2">2</i><i class="p">.</i><i class="d">6</i><i class="d d1">I</i></div>
<div class="t n" style="right:632.50px;top:924.85px;font-size:37.00px;"><i class="d d2">2</i><i class="d">o</i><i class="p">.</i><i class="d dn d35">5</i><i class="d dn">4</i></div>
<div class="t n" style="right:494.50px;top:925.15px;font-size:37.00px;"><i class="d d2">2</i><i class="p">.</i><i class="d">6</i><i class="d d1">I</i></div>
<div class="t b" style="left:1764.00px;top:926.29px;transform:scaleX(0.9550);">July</div>
<div class="t n" style="right:332.00px;top:925.45px;font-size:37.00px;"><i class="d d1">I</i><i class="d dn">9</i></div>
<div class="t n" style="right:1188.50px;top:958.92px;font-size:37.00px;"><i class="d">6</i><i class="d dn">9</i><i class="p">.</i><i class="d dn d35">3</i><i class="d dn d35">3</i></div>
<div class="t n" style="right:1051.70px;top:959.52px;font-size:37.00px;"><i class="d dn d35">3</i><i class="p">.</i><i class="d dn">7</i><i class="d">o</i></div>
<div class="t n" style="right:920.50px;top:959.92px;font-size:37.00px;"><i class="d d1">I</i><i class="p">.</i><i class="d">o</i><i class="d d2">2</i></div>
<div class="t n" style="right:767.70px;top:960.22px;font-size:37.00px;"><i class="d d1">I</i><i class="d d2">2</i><i class="p">.</i><i class="d dn">4</i><i class="d">6</i></div>
<div class="t n" style="right:632.50px;top:960.52px;font-size:37.00px;"><i class="d d1">I</i><i class="d d1">I</i><i class="p">.</i><i class="d">8</i><i class="d dn d35">3</i></div>
<div class="t n" style="right:494.50px;top:960.82px;font-size:37.00px;"><i class="d d1">I</i><i class="p">.</i><i class="d">6</i><i class="d">6</i></div>
<div class="t b" style="left:1764.00px;top:961.96px;transform:scaleX(0.9550);">June</div>
<div class="t n" style="right:332.00px;top:961.12px;font-size:37.00px;"><i class="d d1">I</i><i class="d dn d35">3</i></div>
<div class="t n" style="right:1188.50px;top:994.59px;font-size:37.00px;"><i class="d">6</i><i class="d dn">9</i><i class="p">.</i><i class="d dn">7</i><i class="d">o</i></div>
<div class="t n" style="right:1051.70px;top:995.19px;font-size:37.00px;"><i class="d dn d35">3</i><i class="p">.</i><i class="d dn">4</i><i class="d dn">9</i></div>
<div class="t n" style="right:920.50px;top:995.59px;font-size:37.00px;"><i class="d d1">I</i><i class="p">.</i><i class="d">o</i><i class="d d2">2</i></div>
<div class="t n" style="right:767.70px;top:995.89px;font-size:37.00px;"><i class="d d1">I</i><i class="d d1">I</i><i class="p">.</i><i class="d dn">9</i><i class="d d2">2</i></div>
<div class="t n" style="right:632.50px;top:996.19px;font-size:37.00px;"><i class="d d1">I</i><i class="d d1">I</i><i class="p">.</i><i class="d dn">9</i><i class="d dn">4</i></div>
<div class="t n" style="right:494.50px;top:996.49px;font-size:37.00px;"><i class="d d1">I</i><i class="p">.</i><i class="d dn">9</i><i class="d dn d35">3</i></div>
<div class="t b dm" style="left:1785.00px;top:997.63px;transform:scaleX(0.9550);">,,</div>
<div class="t n" style="right:332.00px;top:996.79px;font-size:37.00px;"><i class="d d2">2</i><i class="d dn">9</i></div>
<div class="t n" style="right:1188.50px;top:1030.26px;font-size:37.00px;"><i class="d dn d35">5</i><i class="d">8</i><i class="p">.</i><i class="d">8</i><i class="d dn d35">5</i></div>
<div class="t n" style="right:1051.70px;top:1030.86px;font-size:37.00px;"><i class="d dn">4</i><i class="p">.</i><i class="d dn d35">5</i><i class="d dn">9</i></div>
<div class="t n" style="right:920.50px;top:1031.26px;font-size:37.00px;"><i class="p">.</i><i class="d dn">9</i><i class="d dn">4</i></div>
<div class="t n" style="right:767.70px;top:1031.56px;font-size:37.00px;"><i class="d d2">2</i><i class="d">o</i><i class="p">.</i><i class="d">o</i><i class="d dn d35">5</i></div>
<div class="t n" style="right:632.50px;top:1031.86px;font-size:37.00px;"><i class="d d1">I</i><i class="d dn d35">3</i><i class="p">.</i><i class="d">o</i><i class="d dn d35">3</i></div>
<div class="t n" style="right:494.50px;top:1032.16px;font-size:37.00px;"><i class="d d2">2</i><i class="p">.</i><i class="d dn d35">5</i><i class="d dn">4</i></div>
<div class="t b" style="left:1764.00px;top:1033.30px;transform:scaleX(0.9550);">July</div>
<div class="t n" style="right:332.00px;top:1032.46px;font-size:37.00px;"><i class="d d1">I</i><i class="d d1">I</i></div>
<div class="t n" style="right:1188.50px;top:1065.93px;font-size:37.00px;"><i class="d dn">7</i><i class="d d1">I</i><i class="p">.</i><i class="d dn">4</i><i class="d dn d35">3</i></div>
<div class="t n" style="right:1051.70px;top:1066.53px;font-size:37.00px;"><i class="d dn d35">3</i><i class="p">.</i><i class="d dn d35">3</i><i class="d dn">7</i></div>
<div class="t n" style="right:920.50px;top:1066.93px;font-size:37.00px;"><i class="p">.</i><i class="d dn">9</i><i class="d d1">I</i></div>
<div class="t n" style="right:767.70px;top:1067.23px;font-size:37.00px;"><i class="d d1">I</i><i class="d d2">2</i><i class="p">.</i><i class="d">o</i><i class="d">8</i></div>
<div class="t n" style="right:632.50px;top:1067.53px;font-size:37.00px;"><i class="d d1">I</i><i class="d">o</i><i class="p">.</i><i class="d">o</i><i class="d">6</i></div>
<div class="t n" style="right:494.50px;top:1067.83px;font-size:37.00px;"><i class="d d2">2</i><i class="p">.</i><i class="d d1">I</i><i class="d dn d35">5</i></div>
<div class="t b" style="left:1764.00px;top:1068.97px;transform:scaleX(0.9550);">June</div>
<div class="t n" style="right:332.00px;top:1068.13px;font-size:37.00px;"><i class="d">8</i></div>
<div class="t n" style="right:1188.50px;top:1101.60px;font-size:37.00px;"><i class="d dn">7</i><i class="d dn d35">5</i><i class="p">.</i><i class="d">6</i><i class="d d1">I</i></div>
<div class="t n" style="right:1051.70px;top:1102.20px;font-size:37.00px;"><i class="d d2">2</i><i class="p">.</i><i class="d dn">4</i><i class="d dn d35">5</i></div>
<div class="t n" style="right:920.50px;top:1102.60px;font-size:37.00px;"><i class="p">.</i><i class="d">8</i><i class="d">o</i></div>
<div class="t n" style="right:767.70px;top:1102.90px;font-size:37.00px;"><i class="d d1">I</i><i class="d dn">4</i><i class="p">.</i><i class="d d1">I</i><i class="d d1">I</i></div>
<div class="t n" style="right:632.50px;top:1103.20px;font-size:37.00px;"><i class="d dn">4</i><i class="p">.</i><i class="d">8</i><i class="d d2">2</i></div>
<div class="t n" style="right:494.50px;top:1103.50px;font-size:37.00px;"><i class="d d2">2</i><i class="p">.</i><i class="d d2">2</i><i class="d d1">I</i></div>
<div class="t b dm" style="left:1785.00px;top:1104.64px;transform:scaleX(0.9550);">,,</div>
<div class="t n" style="right:332.00px;top:1103.80px;font-size:37.00px;"><i class="d d1">I</i><i class="d dn d35">3</i></div>
<div class="t n" style="right:1188.50px;top:1137.27px;font-size:37.00px;"><i class="d dn d35">5</i><i class="d dn">7</i><i class="p">.</i><i class="d d2">2</i><i class="d d1">I</i></div>
<div class="t n" style="right:1051.70px;top:1137.87px;font-size:37.00px;"><i class="d dn">4</i><i class="p">.</i><i class="d">8</i><i class="d">6</i></div>
<div class="t n" style="right:920.50px;top:1138.27px;font-size:37.00px;"><i class="d d1">I</i><i class="p">.</i><i class="d dn d35">5</i><i class="d">o</i></div>
<div class="t n" style="right:767.70px;top:1138.57px;font-size:37.00px;"><i class="d d2">2</i><i class="d d2">2</i><i class="p">.</i><i class="d">8</i><i class="d dn d35">5</i></div>
<div class="t n" style="right:632.50px;top:1138.87px;font-size:37.00px;"><i class="d d1">I</i><i class="d d1">I</i><i class="p">.</i><i class="d dn d35">3</i><i class="d d2">2</i></div>
<div class="t n" style="right:494.50px;top:1139.17px;font-size:37.00px;"><i class="d d2">2</i><i class="p">.</i><i class="d d2">2</i><i class="d">6</i></div>
<div class="t ld" style="left:1801.00px;top:1140.31px;">...</div>
<div class="t n" style="right:1188.50px;top:1172.94px;font-size:37.00px;"><i class="d dn">7</i><i class="d dn">9</i><i class="p">.</i><i class="d d1">I</i><i class="d dn">4</i></div>
<div class="t n" style="right:1051.70px;top:1173.54px;font-size:37.00px;"><i class="d d2">2</i><i class="p">.</i><i class="d dn">4</i><i class="d dn">7</i></div>
<div class="t n" style="right:920.50px;top:1173.94px;font-size:37.00px;"><i class="p">.</i><i class="d dn">7</i><i class="d d1">I</i></div>
<div class="t n" style="right:767.70px;top:1174.24px;font-size:37.00px;"><i class="d d1">I</i><i class="d">o</i><i class="p">.</i><i class="d dn">7</i><i class="d dn">9</i></div>
<div class="t n" style="right:632.50px;top:1174.54px;font-size:37.00px;"><i class="d">6</i><i class="p">.</i><i class="d dn d35">3</i><i class="d">o</i></div>
<div class="t n" style="right:494.50px;top:1174.84px;font-size:37.00px;"><i class="p">.</i><i class="d dn d35">5</i><i class="d dn">9</i></div>
<div class="t b" style="left:1764.00px;top:1175.98px;transform:scaleX(0.9550);">May</div>
<div class="t n" style="right:332.00px;top:1175.14px;font-size:37.00px;"><i class="d d2">2</i><i class="d">8</i></div>
<div class="t n" style="right:1188.50px;top:1208.61px;font-size:37.00px;"><i class="d">6</i><i class="d dn">7</i><i class="p">.</i><i class="d d1">I</i><i class="d dn">4</i></div>
<div class="t n" style="right:1051.70px;top:1209.21px;font-size:37.00px;"><i class="d dn d35">3</i><i class="p">.</i><i class="d dn">4</i><i class="d d1">I</i></div>
<div class="t n" style="right:920.50px;top:1209.61px;font-size:37.00px;"><i class="p">.</i><i class="d">8</i><i class="d">6</i></div>
<div class="t n" style="right:767.70px;top:1209.91px;font-size:37.00px;"><i class="d d1">I</i><i class="d dn">4</i><i class="p">.</i><i class="d d1">I</i><i class="d dn d35">5</i></div>
<div class="t n" style="right:632.50px;top:1210.21px;font-size:37.00px;"><i class="d d1">I</i><i class="d d2">2</i><i class="p">.</i><i class="d dn">4</i><i class="d dn">9</i></div>
<div class="t n" style="right:494.50px;top:1210.51px;font-size:37.00px;"><i class="d d1">I</i><i class="p">.</i><i class="d dn">9</i><i class="d dn d35">5</i></div>
<div class="t b" style="left:1764.00px;top:1211.65px;transform:scaleX(0.9550);">June</div>
<div class="t n" style="right:332.00px;top:1210.81px;font-size:37.00px;"><i class="d d1">I</i><i class="d d1">I</i></div>
<div class="t n" style="right:1188.50px;top:1244.28px;font-size:37.00px;"><i class="d dn">7</i><i class="d dn d35">3</i><i class="p">.</i><i class="d">6</i><i class="d">o</i></div>
<div class="t n" style="right:1051.70px;top:1244.88px;font-size:37.00px;"><i class="d d2">2</i><i class="p">.</i><i class="d dn d35">5</i><i class="d">8</i></div>
<div class="t n" style="right:920.50px;top:1245.28px;font-size:37.00px;"><i class="p">.</i><i class="d dn">9</i><i class="d dn">7</i></div>
<div class="t n" style="right:767.70px;top:1245.58px;font-size:37.00px;"><i class="d d1">I</i><i class="d">o</i><i class="p">.</i><i class="d dn d35">5</i><i class="d dn">4</i></div>
<div class="t n" style="right:632.50px;top:1245.88px;font-size:37.00px;"><i class="d d1">I</i><i class="d">o</i><i class="p">.</i><i class="d d1">I</i><i class="d d1">I</i></div>
<div class="t n" style="right:494.50px;top:1246.18px;font-size:37.00px;"><i class="d d2">2</i><i class="p">.</i><i class="d d2">2</i><i class="d">o</i></div>
<div class="t b dm" style="left:1785.00px;top:1247.32px;transform:scaleX(0.9550);">,,</div>
<div class="t n" style="right:332.00px;top:1246.48px;font-size:37.00px;"><i class="d d1">I</i><i class="d">8</i></div>
<div class="t n" style="right:1188.50px;top:1279.95px;font-size:37.00px;"><i class="d">8</i><i class="d dn">7</i><i class="p">.</i><i class="d dn d35">5</i><i class="d">8</i></div>
<div class="t n" style="right:1051.70px;top:1280.55px;font-size:37.00px;"><i class="d dn d35">3</i><i class="p">.</i><i class="d d2">2</i><i class="d d2">2</i></div>
<div class="t n" style="right:920.50px;top:1280.95px;font-size:37.00px;"><i class="p">.</i><i class="d">8</i><i class="d d1">I</i></div>
<div class="t n" style="right:767.70px;top:1281.25px;font-size:37.00px;"><i class="d dn d35">3</i><i class="p">.</i><i class="d dn">9</i><i class="d">8</i></div>
<div class="t n" style="right:632.50px;top:1281.55px;font-size:37.00px;"><i class="d dn d35">3</i><i class="p">.</i><i class="d d1">I</i><i class="d dn d35">3</i></div>
<div class="t n" style="right:494.50px;top:1281.85px;font-size:37.00px;"><i class="d d1">I</i><i class="p">.</i><i class="d d2">2</i><i class="d">8</i></div>
<div class="t b" style="left:1764.00px;top:1282.99px;transform:scaleX(0.9550);">April</div>
<div class="t n" style="right:332.00px;top:1282.15px;font-size:37.00px;"><i class="d dn d35">3</i><i class="d">o</i></div>
<div class="t n" style="right:1188.50px;top:1315.62px;font-size:37.00px;"><i class="d dn">7</i><i class="d dn">4</i><i class="p">.</i><i class="d dn d35">5</i><i class="d dn d35">3</i></div>
<div class="t n" style="right:1051.70px;top:1316.22px;font-size:37.00px;"><i class="d d2">2</i><i class="p">.</i><i class="d dn">7</i><i class="d">8</i></div>
<div class="t n" style="right:920.50px;top:1316.62px;font-size:37.00px;"><i class="p">.</i><i class="d dn d35">5</i><i class="d d2">2</i></div>
<div class="t n" style="right:767.70px;top:1316.92px;font-size:37.00px;"><i class="d d1">I</i><i class="d d1">I</i><i class="p">.</i><i class="d d1">I</i><i class="d dn">7</i></div>
<div class="t n" style="right:632.50px;top:1317.22px;font-size:37.00px;"><i class="d">8</i><i class="p">.</i><i class="d dn">7</i><i class="d">6</i></div>
<div class="t n" style="right:494.50px;top:1317.52px;font-size:37.00px;"><i class="d d2">2</i><i class="p">.</i><i class="d d2">2</i><i class="d dn">4</i></div>
<div class="t b" style="left:1764.00px;top:1318.66px;transform:scaleX(0.9550);">June</div>
<div class="t n" style="right:332.00px;top:1317.82px;font-size:37.00px;"><i class="d d2">2</i><i class="d">6</i></div>
<div class="t n" style="right:1188.50px;top:1351.29px;font-size:37.00px;"><i class="d">6</i><i class="d dn">9</i><i class="p">.</i><i class="d">o</i><i class="d">o</i></div>
<div class="t n" style="right:1051.70px;top:1351.89px;font-size:37.00px;"><i class="d d2">2</i><i class="p">.</i><i class="d dn">9</i><i class="d">6</i></div>
<div class="t n" style="right:920.50px;top:1352.29px;font-size:37.00px;"><i class="p">.</i><i class="d">6</i><i class="d dn">9</i></div>
<div class="t n" style="right:767.70px;top:1352.59px;font-size:37.00px;"><i class="d d1">I</i><i class="d d2">2</i><i class="p">.</i><i class="d">8</i><i class="d dn">9</i></div>
<div class="t n" style="right:632.50px;top:1352.89px;font-size:37.00px;"><i class="d d1">I</i><i class="d d2">2</i><i class="p">.</i><i class="d dn">4</i><i class="d dn">7</i></div>
<div class="t n" style="right:494.50px;top:1353.19px;font-size:37.00px;"><i class="d d1">I</i><i class="p">.</i><i class="d dn">9</i><i class="d dn">9</i></div>
<div class="t b dm" style="left:1785.00px;top:1354.33px;transform:scaleX(0.9550);">,,</div>
<div class="t n" style="right:332.00px;top:1353.49px;font-size:37.00px;"><i class="d">8</i></div>
<div class="t n" style="left:1477.00px;top:781.87px;font-size:37.00px;transform:translateX(-50%) scaleX(1.0000);transform-origin:0 0;"><i class="d dn d35">3</i><i class="d dn d35">3</i><i class="p">.</i><i class="d d1">I</i><i class="d dn">9</i></div>
<div class="t ft" style="left:678.10px;top:1415.11px;font-size:34.50px;transform:scaleX(0.7627);">Most</div>
<div class="t ft" style="left:746.00px;top:1415.11px;font-size:34.50px;transform:scaleX(0.8174);">of</div>
<div class="t ft" style="left:780.40px;top:1415.11px;font-size:34.50px;transform:scaleX(0.7848);">the</div>
<div class="t ft" style="left:826.50px;top:1415.11px;font-size:34.50px;transform:scaleX(0.7893);">grasses</div>
<div class="t ft" style="left:918.80px;top:1415.11px;font-size:34.50px;transform:scaleX(0.7006);">here</div>
<div class="t ft" style="left:979.20px;top:1415.11px;font-size:34.50px;transform:scaleX(0.7729);">mentioned</div>
<div class="t ft" style="left:1113.00px;top:1415.11px;font-size:34.50px;transform:scaleX(0.6905);">were</div>
<div class="t ft" style="left:1174.00px;top:1415.11px;font-size:34.50px;transform:scaleX(0.8003);">analysed</div>
<div class="t ft" style="left:1287.20px;top:1415.11px;font-size:34.50px;transform:scaleX(0.7633);">when</div>
<div class="t ft" style="left:1357.50px;top:1415.11px;font-size:34.50px;transform:scaleX(0.6428);">in</div>
<div class="t ft" style="left:1387.50px;top:1415.11px;font-size:34.50px;transform:scaleX(0.7782);">flower.</div>
<div class="rot" style="left:1995.00px;top:242px;"><i class="d d1">I</i><i class="d dn d35">5</i><i class="d">8</i></div>
<div class="rot2" style="left:1984.66px;top:646px;letter-spacing:1.75px;transform:rotate(90deg) scaleX(1.256)">VEGETABLE</div>
<div class="rot2" style="left:1984.66px;top:914px;letter-spacing:1.75px;transform:rotate(90deg) scaleX(1.108)">FOODS.</div>
</body></html>
